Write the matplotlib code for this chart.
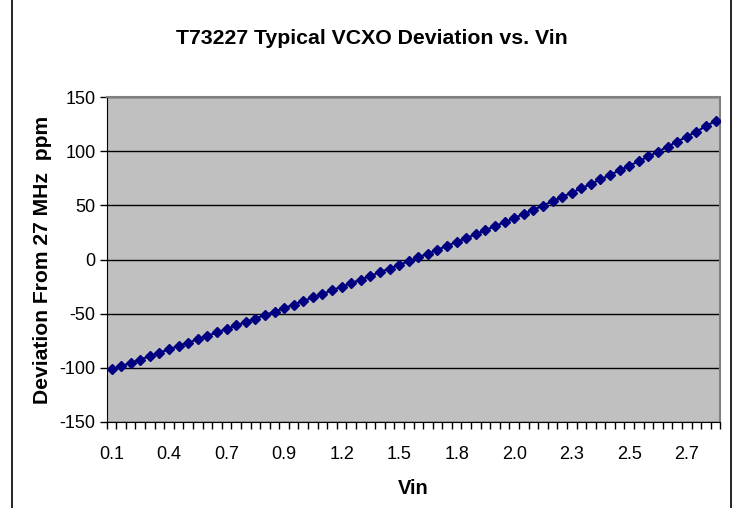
import matplotlib
matplotlib.use("Agg")
import matplotlib.pyplot as plt
from matplotlib.lines import Line2D

plt.rcParams['font.family'] = ['Liberation Sans', 'DejaVu Sans']
plt.rcParams['axes.unicode_minus'] = False

# deviation in ppm, one value per Vin step (64 steps)
deviation = [
    -101.5, -98.5, -95.5, -92.4, -89.2, -86.0, -82.9, -79.8,
    -76.7, -73.6, -70.5, -67.3, -64.1, -60.9, -57.7, -54.5,
    -51.3, -48.1, -44.9, -41.6, -38.3, -35.0, -31.7, -28.4,
    -25.1, -21.8, -18.5, -15.1, -11.7, -8.3, -4.9, -1.5,
    2.0, 5.5, 9.0, 12.6, 16.2, 19.8, 23.4, 27.1,
    30.8, 34.5, 38.3, 42.1, 45.9, 49.8, 53.7, 57.7,
    61.7, 65.7, 69.8, 73.9, 78.1, 82.3, 86.5, 90.8,
    95.1, 99.5, 104.2, 108.8, 113.4, 118.1, 123.0, 128.0,
]
vin_labels = ['0.1', '0.4', '0.7', '0.9', '1.2', '1.5', '1.8', '2.0', '2.3', '2.5', '2.7']
label_every = 6
y_ticks = [-150, -100, -50, 0, 50, 100, 150]

n = len(deviation)
cats = list(range(n))

fig = plt.figure(figsize=(7.33, 5.08), dpi=100)
ax = fig.add_axes([0.1456, 0.1693, 0.8371, 0.6397])
ax.set_facecolor('#C0C0C0')

ax.plot(cats, deviation, color='#000080', lw=1.5, marker='D', ms=5.3,
        mfc='#000080', mec='#000080', zorder=3)

ax.set_xlim(-0.5, n - 0.5)
ax.set_ylim(-150, 150)
ax.set_yticks(y_ticks)
ax.yaxis.grid(True, color='black', lw=1)
ax.set_axisbelow(True)

# category ticks at the bin edges, labels every 6th category
ax.set_xticks([i - 0.5 for i in range(n + 1)])
ax.set_xticklabels([])
ax.set_xticks([i * label_every for i in range(len(vin_labels))], minor=True)
ax.set_xticklabels(vin_labels, minor=True)
ax.tick_params(axis='x', which='major', length=5, width=1, direction='out', color='black')
ax.tick_params(axis='x', which='minor', length=0, pad=17, labelsize=13)
ax.tick_params(axis='y', length=5, width=1, direction='out', labelsize=13, pad=3)

for side in ['top', 'right']:
    ax.spines[side].set_color('#808080')
    ax.spines[side].set_linewidth(1.5)
ax.spines['left'].set_color('black')
ax.spines['bottom'].set_color('black')

ax.set_xlabel('Vin', fontsize=14.5, fontweight='bold', labelpad=12)
ax.set_ylabel('Deviation From 27 MHz  ppm', fontsize=15.2, fontweight='bold', labelpad=5.5)
fig.text(0.507, 0.925, 'T73227 Typical VCXO Deviation vs. Vin', ha='center', va='center',
         fontsize=15.3, fontweight='bold')

# chart area border edges
fig.add_artist(Line2D([12 / 733, 12 / 733], [0, 1], color='black', lw=1.2))
fig.add_artist(Line2D([731 / 733, 731 / 733], [0, 1], color='black', lw=1.2))

fig.savefig('out.png', dpi=100)
